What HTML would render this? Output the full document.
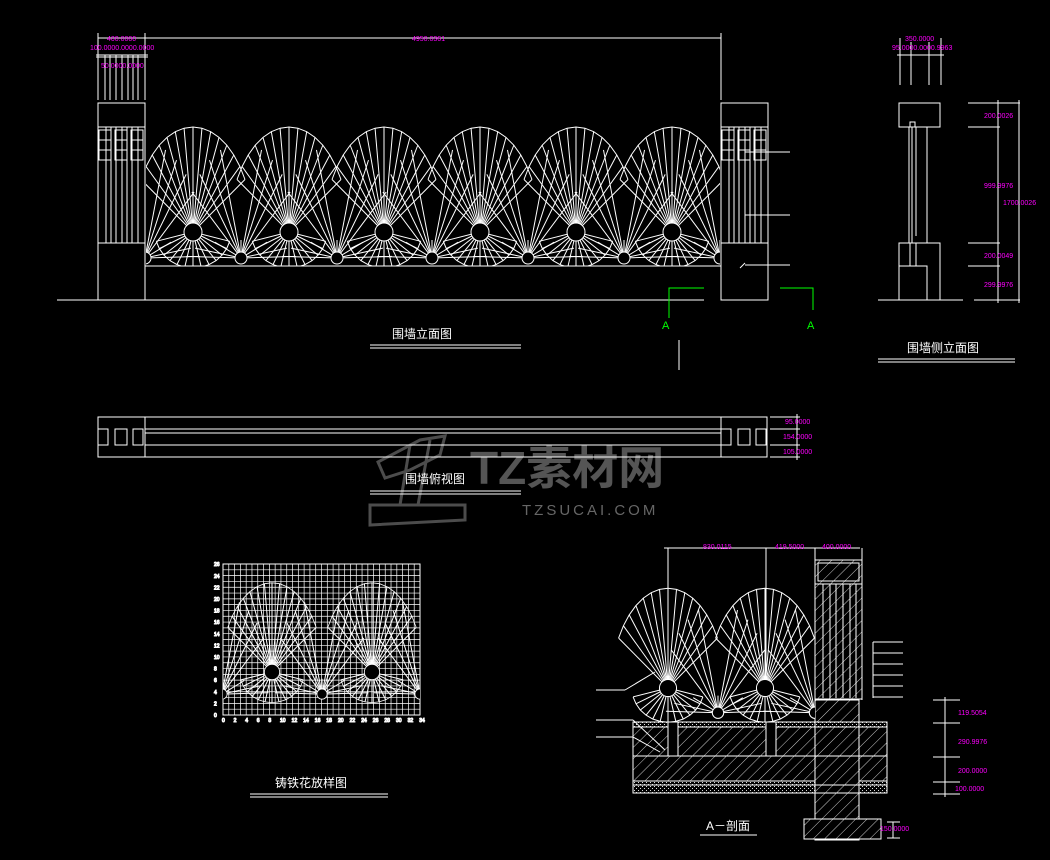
<!DOCTYPE html>
<html><head><meta charset="utf-8"><style>
html,body{margin:0;padding:0;background:#000;width:1050px;height:860px;overflow:hidden}
svg{display:block}
text{font-family:"Liberation Sans","Noto Sans CJK SC",sans-serif}
.m{fill:#ff00ff;font-size:7px}
.t{fill:#fff;font-size:12px}
</style></head><body>
<svg id="s" width="1050" height="860" viewBox="0 0 1050 860" xmlns="http://www.w3.org/2000/svg">
<defs>
<pattern id="h" width="8" height="8" patternUnits="userSpaceOnUse" patternTransform="rotate(45)">
<rect width="8" height="8" fill="#000"/><line x1="0" y1="0" x2="0" y2="8" stroke="#fff" stroke-width="0.8"/></pattern>
<pattern id="d" width="4" height="4" patternUnits="userSpaceOnUse"><rect width="4" height="4" fill="#000"/><rect x="0" y="0" width="1" height="1" fill="#ddd"/><rect x="2" y="2" width="1" height="1" fill="#ddd"/></pattern>
</defs>
<g fill="none" stroke="#555" stroke-width="3" opacity="0.9">
<path d="M378 462 L420 440 L445 436 L440 455 L410 470 L385 478 Z"/>
<path d="M430 440 L418 505 L400 505 L410 445"/>
<path d="M370 505 L465 505 L465 520 L370 525 Z"/>
</g>
<text x="470" y="484" fill="#555" font-size="46" font-weight="bold">TZ素材网</text>
<text x="522" y="515" fill="#666" font-size="15" letter-spacing="3">TZSUCAI.COM</text>
<g id="g" stroke="#fff" fill="none" stroke-width="1"></g>
<text class="t" x="392" y="338">围墙立面图</text>
<text class="t" x="907" y="352">围墙侧立面图</text>
<text class="t" x="405" y="483">围墙俯视图</text>
<text class="t" x="275" y="787">铸铁花放样图</text>
<text class="t" x="706" y="830">A－剖面</text>
<text x="662" y="329" fill="#00ff00" font-size="11">A</text>
<text x="807" y="329" fill="#00ff00" font-size="11">A</text>
<text class="m" x="412" y="41">4950.0361</text>
<text class="m" x="107" y="41">400.0000</text>
<text class="m" x="90" y="50">100.0000.0000.0000</text>
<text class="m" x="101" y="68">50.0000.0000</text>
<text class="m" x="905" y="41">350.0000</text>
<text class="m" x="892" y="50">95.0000.0000.9963</text>
<text class="m" x="984" y="118">200.0026</text>
<text class="m" x="984" y="188">999.9976</text>
<text class="m" x="1003" y="205">1700.0026</text>
<text class="m" x="984" y="258">200.0049</text>
<text class="m" x="984" y="287">299.9976</text>
<text class="m" x="785" y="424">95.0000</text>
<text class="m" x="783" y="439">154.0000</text>
<text class="m" x="783" y="454">105.0000</text>
<text class="m" x="703" y="549">830.0115</text>
<text class="m" x="775" y="549">419.5000</text>
<text class="m" x="822" y="549">400.0000</text>
<text class="m" x="958" y="715">119.5054</text>
<text class="m" x="958" y="744">290.9976</text>
<text class="m" x="958" y="773">200.0000</text>
<text class="m" x="955" y="791">100.0000</text>
<text class="m" x="880" y="831">150.0000</text>
</svg>
<script>
var g=document.getElementById('g'),NS='http://www.w3.org/2000/svg';
function el(t,a,p){var e=document.createElementNS(NS,t);for(var k in a)e.setAttribute(k,a[k]);(p||g).appendChild(e);return e}
function L(x1,y1,x2,y2,c,w){el('line',{x1:x1,y1:y1,x2:x2,y2:y2,stroke:c||'#fff','stroke-width':w||1})}
function R(x,y,w,h,f){el('rect',{x:x,y:y,width:w,height:h,fill:f||'none'})}
function C(x,y,r){el('circle',{cx:x,cy:y,r:r,fill:'#000'})}
function fan(cx,cy,rx,ry,a0,a1,n,arc){var pts=[];for(var i=0;i<=n;i++){var a=(a0+(a1-a0)*i/n)*Math.PI/180;var x=cx+rx*Math.cos(a),y=cy+ry*Math.sin(a);pts.push([x,y]);L(cx,cy,x,y)}
 if(arc){el('path',{d:'M'+pts.map(p=>p[0].toFixed(1)+' '+p[1].toFixed(1)).join(' L')})}}
function pattern(cs,cy,s,sm){
 sm.forEach(function(cx){fan(cx,cy+26*s,60*s,115*s,-145,-110,3,false);fan(cx,cy+26*s,60*s,115*s,-70,-35,3,false);fan(cx,cy+26*s,55*s,18*s,-175,-5,6,false)});
 cs.forEach(function(cx){fan(cx,cy,60*s,105*s,-150,-30,14,true);fan(cx,cy,38*s,36*s,15,165,12,true);});
 cs.forEach(function(cx){C(cx,cy,9*s)});sm.forEach(function(cx){C(cx,cy+26*s,6*s)});}
var cl=el('clipPath',{id:'c1'},document.querySelector('defs'));el('rect',{x:146,y:100,width:574,height:166},cl);
var old=g;g=el('g',{'clip-path':'url(#c1)'});
pattern([193,289,384,480,576,672],232,1,[145,241,337,432,528,624,720]);g=old;
L(57,300,704,300);L(145,266,721,266);
[98,721].forEach(function(x){R(x,103,47,197);L(x,127,x+47,127);L(x,243,x+47,243);
 [x+8,x+13,x+18,x+24,x+29,x+34,x+40].forEach(function(v){L(v,127,v,243)});
 [x+1,x+17,x+33].forEach(function(v){R(v,130,12,30);L(v,140,v+12,140);L(v,150,v+12,150)});});
L(98,38,721,38);L(98,33,98,100);L(145,33,145,100);L(721,33,721,100);
[105,110,116,122,128,133,138].forEach(function(v){L(v,55,v,100)});L(96,55,148,55);L(96,57,148,57);
L(745,152,790,152);L(745,215,790,215);L(740,268,745,263);L(745,265,790,265);
el('polyline',{points:'669,318 669,288 704,288',stroke:'#00ff00'});el('polyline',{points:'780,288 813,288 813,310',stroke:'#00ff00'});
L(679,340,679,370);
L(370,345,521,345);L(370,348,521,348);
L(878,359,1015,359);L(878,362,1015,362);
L(370,491,521,491);L(370,494,521,494);
L(250,794,388,794);L(250,797,388,797);
L(700,835,757,835);
L(900,38,900,85);L(911,42,911,85);L(929,42,929,85);L(941,38,941,85);L(897,55,944,55);
R(899,103,41,24);R(910,122,5,5);L(909,127,909,243);L(912,127,912,243);L(916,127,916,236);L(927,127,927,243);
R(899,243,41,57);R(899,266,28,34);L(910,243,910,266);L(916,243,916,266);
L(878,300,963,300);L(974,300,1020,300);
[103,127,243,266].forEach(function(y){L(968,y,1000,y)});L(968,103,1020,103);
L(998,100,998,303);L(1019,100,1019,303);
R(98,417,669,40);L(145,417,145,457);L(721,417,721,457);
L(145,429,721,429);L(145,433,721,433);L(145,445,721,445);
[98,721].forEach(function(x){R(x,429,10,16);R(x+17,429,12,16);R(x+35,429,10,16)});
L(770,417,800,417);L(770,429,800,429);L(770,445,800,445);L(770,457,800,457);L(797,414,797,460);
// grid
R(223,564,197,151);for(var i=1;i<34;i++){var x=223+197*i/34;L(x,564,x,715,'#fff',0.7)}
for(var j=1;j<26;j++){var y=564+151*j/26;L(223,y,420,y,'#fff',0.7)}
var cl3=el('clipPath',{id:'c3'},document.querySelector('defs'));el('rect',{x:223,y:564,width:197,height:151},cl3);
old=g;g=el('g',{'stroke-width':0.8,'clip-path':'url(#c3)'});pattern([272,372],672,0.85,[222,322,420]);g=old;
for(var j=0;j<=13;j++){el('text',{x:214,y:717-j*11.6,fill:'#fff','font-size':5}).textContent=(j*2)}
for(var i=0;i<=17;i++){el('text',{x:222+i*11.6,y:722,fill:'#fff','font-size':5}).textContent=(i*2)}
// section
R(633,722,182,64,'url(#h)');R(633,781,182,12,'url(#d)');R(815,700,44,140,'url(#h)');R(859,722,28,64,'url(#h)');R(859,781,28,12,'url(#d)');
R(633,722,254,5,'url(#d)');
R(815,560,47,24,'url(#h)');R(815,560,47,24);R(818,563,41,18);
R(815,584,47,115,'url(#h)');[823,830,836,843,850,856].forEach(function(x){L(x,584,x,698)});L(815,584,815,840);L(862,584,862,700);L(859,700,859,840);
R(804,819,77,20,'url(#h)');R(804,819,77,20);
L(633,756,887,756);L(633,785,887,785);L(633,793,887,793);
[668,766].forEach(function(x){R(x,722,10,34,'#000');L(x,722,x,756);L(x+10,722,x+10,756)});
var cl2=el('clipPath',{id:'c2'},document.querySelector('defs'));el('rect',{x:600,y:560,width:215,height:162},cl2);
old=g;g=el('g',{'clip-path':'url(#c2)'});pattern([668,765],688,0.95,[718,815]);g=old;
L(668,548,668,680);L(766,548,766,680);L(815,548,815,560);L(862,548,862,560);L(664,548,860,548);
L(596,690,625,690);L(625,690,655,672);L(596,720,633,720);L(633,720,665,750);L(596,737,633,737);L(633,737,660,752);
L(873,642,873,698);[642,653,664,675,686,697].forEach(function(y){L(873,y,903,y)});
[700,723,757,782,794].forEach(function(y){L(933,y,960,y)});L(945,697,945,797);
L(893,822,893,838);L(887,822,900,822);L(887,838,900,838);
</script>
</body></html>
